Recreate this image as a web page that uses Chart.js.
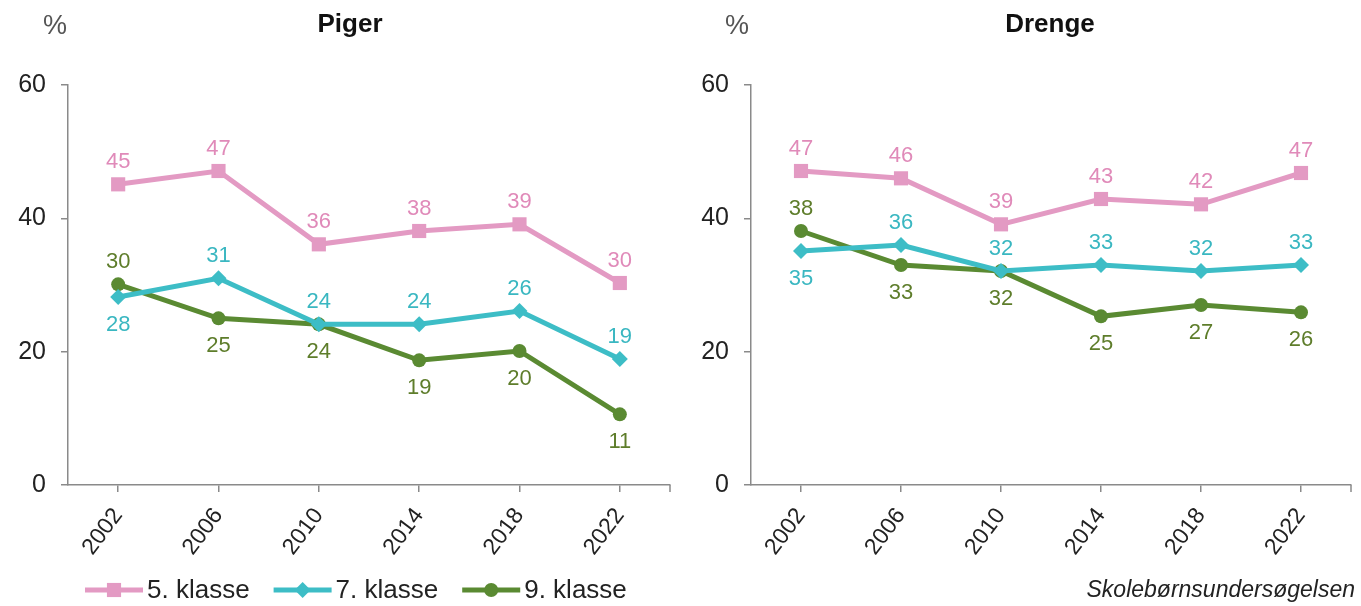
<!DOCTYPE html>
<html>
<head>
<meta charset="utf-8">
<script src="https://cdn.jsdelivr.net/npm/chart.js@4.4.1/dist/chart.umd.min.js"></script>
<style>
  body { margin: 0; background: #fff; }
  .panel { position: absolute; top: 0; }
</style>
</head>
<body>
<div class="panel" style="left:0"><canvas id="piger" width="680" height="606"></canvas></div>
<div class="panel" style="left:680px"><canvas id="drenge" width="681" height="606"></canvas></div>
<script>
const years = ["2002", "2006", "2010", "2014", "2018", "2022"];
const seriesNames = ["5. klasse", "7. klasse", "9. klasse"];
const yMax = 60;
const yStep = 20;

const piger5 = [45.1, 47.1, 36.1, 38.1, 39.1, 30.3];
const piger7 = [28.2, 31.0, 24.1, 24.1, 26.1, 18.9];
const piger9 = [30.1, 25.0, 24.1, 18.7, 20.1, 10.6];

const drenge5 = [47.1, 46.0, 39.1, 42.9, 42.1, 46.8];
const drenge7 = [35.1, 36.0, 32.1, 33.0, 32.1, 33.0];
const drenge9 = [38.1, 33.0, 32.1, 25.3, 27.0, 25.9];

// where each value label goes: 1 = above the point, -1 = below
const pigerLabelSide = [[1, 1, 1, 1, 1, 1], [-1, 1, 1, 1, 1, 1], [1, -1, -1, -1, -1, -1]];
const drengeLabelSide = [[1, 1, 1, 1, 1, 1], [-1, 1, 1, 1, 1, 1], [1, -1, -1, -1, -1, -1]];

const lineColors = ["#E39AC3", "#3DBDC6", "#5A8A32"];
const labelColors = ["#E08AB9", "#3AB7C1", "#5E7D2B"];
const markers = [
  { style: "rect", radius: 10 },
  { style: "rectRot", radius: 8 },
  { style: "circle", radius: 7 },
];
const FONT = "'Liberation Sans', Arial, sans-serif";

function drawMarker(ctx, style, r, x, y) {
  ctx.beginPath();
  if (style === "rect") {
    const s = r * Math.SQRT1_2;
    ctx.rect(x - s, y - s, 2 * s, 2 * s);
  } else if (style === "rectRot") {
    ctx.moveTo(x, y - r); ctx.lineTo(x + r, y); ctx.lineTo(x, y + r); ctx.lineTo(x - r, y);
    ctx.closePath();
  } else {
    ctx.arc(x, y, r, 0, Math.PI * 2);
  }
  ctx.fill();
}

const valueLabels = {
  id: "valueLabels",
  afterDatasetsDraw(chart, args, opts) {
    const ctx = chart.ctx;
    ctx.save();
    ctx.font = "22px " + FONT;
    ctx.textAlign = "center";
    ctx.textBaseline = "middle";
    chart.data.datasets.forEach((ds, i) => {
      const meta = chart.getDatasetMeta(i);
      ctx.fillStyle = labelColors[i];
      meta.data.forEach((pt, j) => {
        const side = opts.sides[i][j];
        const dy = side > 0 ? -22 : 28;
        ctx.fillText(String(Math.round(ds.data[j])), pt.x, pt.y + dy);
      });
    });
    ctx.restore();
  },
};

const headings = {
  id: "headings",
  afterDraw(chart, args, opts) {
    const ctx = chart.ctx;
    ctx.save();
    ctx.textBaseline = "middle";
    ctx.textAlign = "center";
    ctx.fillStyle = "#555";
    ctx.font = "27px " + FONT;
    ctx.fillText("%", opts.percentX, 27);
    ctx.fillStyle = "#111";
    ctx.font = "bold 26px " + FONT;
    ctx.fillText(opts.title, opts.titleX, 25);

    // x axis end cap
    const xs = chart.scales.x;
    ctx.strokeStyle = "#8a8a8a";
    ctx.lineWidth = 1.5;
    ctx.beginPath();
    ctx.moveTo(xs.right, xs.top);
    ctx.lineTo(xs.right, xs.top + 7);
    ctx.stroke();

    if (opts.legend) {
      let x = 85;
      const y = 590;
      ctx.font = "26px " + FONT;
      ctx.textAlign = "left";
      chart.data.datasets.forEach((ds, i) => {
        ctx.strokeStyle = lineColors[i];
        ctx.lineWidth = 5;
        ctx.beginPath();
        ctx.moveTo(x, y);
        ctx.lineTo(x + 58, y);
        ctx.stroke();
        ctx.fillStyle = lineColors[i];
        drawMarker(ctx, markers[i].style, markers[i].radius, x + 29, y);
        ctx.fillStyle = "#222";
        ctx.fillText(ds.label, x + 62, y + 1);
        x += 62 + ctx.measureText(ds.label).width + 24;
      });
    }
    if (opts.source) {
      ctx.font = "italic 23px " + FONT;
      ctx.textAlign = "right";
      ctx.fillStyle = "#222";
      ctx.fillText(opts.source, chart.width - 6, 591);
    }
    ctx.restore();
  },
};

function makeChart(id, series, sides, cfg) {
  const ctx = document.getElementById(id).getContext("2d");
  return new Chart(ctx, {
    type: "line",
    data: {
      labels: years,
      datasets: series.map((values, i) => ({
        label: seriesNames[i],
        data: values,
        borderColor: lineColors[i],
        backgroundColor: lineColors[i],
        borderWidth: 5,
        pointStyle: markers[i].style,
        pointRadius: markers[i].radius,
        pointBorderWidth: 0,
        pointBackgroundColor: lineColors[i],
        tension: 0,
      })),
    },
    plugins: [valueLabels, headings],
    options: {
      responsive: false,
      animation: false,
      layout: { padding: { left: 0, right: cfg.padRight, top: 85, bottom: 6 } },
      plugins: {
        legend: { display: false },
        tooltip: { enabled: false },
        valueLabels: { sides: sides },
        headings: cfg,
      },
      scales: {
        x: {
          offset: true,
          afterFit: (scale) => { scale.height = 115; },
          border: { color: "#8a8a8a", width: 1.5 },
          grid: { drawOnChartArea: false, tickLength: 7, color: "#8a8a8a", lineWidth: 1.5 },
          ticks: {
            autoSkip: false,
            minRotation: 53,
            maxRotation: 53,
            padding: 11,
            color: "#222",
            font: { family: FONT, size: 23 },
          },
        },
        y: {
          min: 0,
          max: yMax,
          afterFit: (scale) => { scale.width = cfg.axisWidth; },
          border: { color: "#8a8a8a", width: 1.5 },
          grid: { drawOnChartArea: false, tickLength: 7, color: "#8a8a8a", lineWidth: 1.5 },
          ticks: {
            stepSize: yStep,
            padding: 15,
            color: "#222",
            font: { family: FONT, size: 25 },
          },
        },
      },
    },
  });
}

makeChart("piger", [piger5, piger7, piger9], pigerLabelSide,
  { title: "Piger", titleX: 350, percentX: 55, axisWidth: 68, padRight: 3, legend: true });
makeChart("drenge", [drenge5, drenge7, drenge9], drengeLabelSide,
  { title: "Drenge", titleX: 370, percentX: 57, axisWidth: 71, padRight: 2, source: "Skolebørnsundersøgelsen" });
</script>
</body>
</html>
